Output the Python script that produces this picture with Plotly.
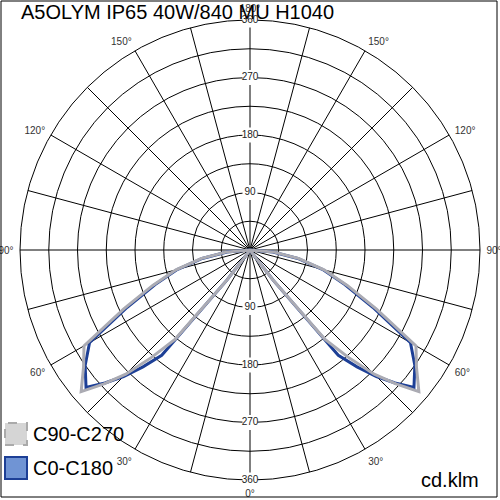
import plotly.graph_objects as go

# ---- data ----
title_text = "A5OLYM IP65 40W/840 MU H1040"
unit_text = "cd.klm"
series_names = ["C90-C270", "C0-C180"]
gamma = [0, 30, 35, 37.5, 40, 42.5, 45, 47.5, 50, 55, 60, 65, 70, 75, 80, 85, 90]
c0_c180 = [3, 3, 6, 60, 215, 248, 280, 308, 335, 315, 290, 212, 158, 118, 76, 36, 0]
c90_c270 = [3, 3, 6, 60, 182, 228, 275, 310, 345, 318, 300, 218, 162, 120, 78, 38, 0]
ring_values = [45, 90, 135, 180, 225, 270, 315, 360]
ring_labels = [90, 180, 270, 360]
angle_ticks = list(range(0, 360, 15))
angle_labels = [(f"{a if a <= 180 else 360 - a}°" if a % 30 == 0 else "") for a in angle_ticks]

W = H = 500
FONT = "Arial, Liberation Sans, sans-serif"


def full_curve(vals):
    theta = list(gamma) + [360 - g for g in reversed(gamma)]
    r = list(vals) + list(reversed(vals))
    return theta, r


fig = go.Figure()

t, r = full_curve(c0_c180)
fig.add_trace(go.Scatterpolar(theta=t, r=r, mode="lines", name=series_names[1],
                              line=dict(color="#1d3f96", width=3), showlegend=False))
t, r = full_curve(c90_c270)
fig.add_trace(go.Scatterpolar(theta=t, r=r, mode="lines", name=series_names[0],
                              line=dict(color="#ababb3", width=3), showlegend=False))

# radial value labels along vertical axis (top and bottom)
lab_r = ring_labels + ring_labels
lab_t = [180] * len(ring_labels) + [0] * len(ring_labels)
fig.add_trace(go.Scatterpolar(theta=lab_t, r=lab_r, mode="markers+text",
                              text=[str(v) for v in lab_r], textposition="middle center",
                              marker=dict(symbol="square", size=15, color="white"),
                              textfont=dict(family=FONT, size=10, color="#222"),
                              cliponaxis=False, showlegend=False, hoverinfo="skip"))

pad = 20
fig.update_layout(
    width=W, height=H,
    margin=dict(l=0, r=0, t=0, b=0),
    paper_bgcolor="white", plot_bgcolor="white",
    showlegend=False,
    polar=dict(
        domain=dict(x=[pad / W, 1 - pad / W], y=[pad / H, 1 - pad / H]),
        bgcolor="white",
        radialaxis=dict(range=[0, 360], tickvals=ring_values, showticklabels=False,
                        ticks="", showline=False, gridcolor="black", gridwidth=1,
                        layer="below traces"),
        angularaxis=dict(rotation=270, direction="counterclockwise",
                         tickvals=angle_ticks, ticktext=angle_labels,
                         ticks="outside", ticklen=4, tickcolor="rgba(0,0,0,0)",
                         showline=True, linecolor="black", linewidth=1,
                         gridcolor="black", gridwidth=1, layer="below traces",
                         tickfont=dict(family=FONT, size=10, color="#333")),
    ),
)

# title and unit
fig.add_annotation(text=title_text, xref="paper", yref="paper", x=19 / W, y=1 - 12 / H,
                   xanchor="left", yanchor="middle", showarrow=False,
                   font=dict(family=FONT, size=20, color="black"))
fig.add_annotation(text=unit_text, xref="paper", yref="paper", x=481 / W, y=1 - 480 / H,
                   xanchor="right", yanchor="middle", showarrow=False,
                   font=dict(family=FONT, size=20, color="black"))

# custom legend boxes
legend_styles = [
    dict(fill="#d5d5d5", line="#aaaaaa", dash="dash", y0=423, y1=445),
    dict(fill="#7094d4", line="#1d3f96", dash="solid", y0=457, y1=479),
]
for name, st in zip(series_names, legend_styles):
    fig.add_shape(type="rect", xref="paper", yref="paper",
                  x0=5 / W, x1=27 / W, y0=1 - st["y1"] / H, y1=1 - st["y0"] / H,
                  fillcolor=st["fill"], line=dict(color=st["line"], width=2, dash=st["dash"]))
    fig.add_annotation(text=name, xref="paper", yref="paper", x=31 / W,
                       y=1 - (st["y0"] + st["y1"]) / 2 / H, xanchor="left", yanchor="middle",
                       showarrow=False, font=dict(family=FONT, size=20, color="black"))

# outer frame
fig.add_shape(type="rect", xref="paper", yref="paper", x0=1 / W, x1=497 / W, y0=1 - 497 / H, y1=1 - 1 / H,
              line=dict(color="black", width=1), fillcolor="rgba(0,0,0,0)")

fig.write_html("out.html", config={"displayModeBar": False},
               post_script="document.body.style.margin='0';document.body.style.padding='0';")
